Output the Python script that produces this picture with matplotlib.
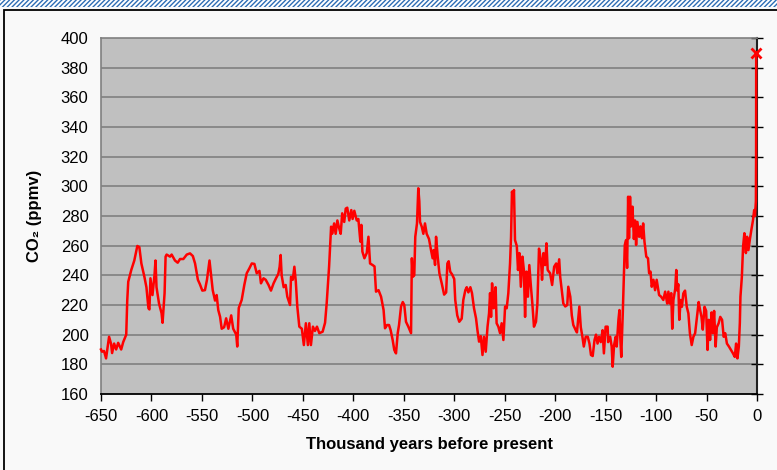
import matplotlib
matplotlib.use("Agg")
import matplotlib.pyplot as plt
from matplotlib.patches import Rectangle

plt.rcParams['font.family'] = ['Liberation Sans', 'DejaVu Sans']

years = [-650, -649, -647, -645, -642, -640, -639, -637, -635, -633, -630, -628, -625, -624, -623, -620, -617, -614, -612,
         -610, -607, -605, -603, -602, -601, -599, -597, -596, -595, -592.5, -590, -589, -587, -586, -585, -581.6, -580,
         -576.7, -574, -571.7, -568.4, -565, -561.8, -559, -556.8, -554, -552, -549.6, -547, -545, -543.7, -542.5,
         -539.3, -537, -535.4, -533.8, -532, -530.4, -528, -526, -523.8, -521, -519, -516, -515, -513.5, -510.6, -508,
         -505.6, -503, -500.6, -498, -495.7, -493, -491.5, -489, -486.8, -484, -481.6, -479, -476.6, -474.3, -473, -472,
         -471, -469, -467, -465.4, -462.7, -461.7, -460, -458.4, -457, -455.5, -453.5, -451, -449, -447, -445, -443.6,
         -442, -440, -438, -436, -433.7, -430.4, -428,
         -426.4, -424, -422, -421, -419, -417.5, -415.8, -414, -412.5, -411, -409, -407.5, -406, -404, -402, -400.7,
         -399, -396.6, -395, -393, -392, -391, -389, -386.7, -385, -383.4, -381, -379, -377.5, -375, -372.5, -370,
         -368.6, -366.6, -364.6, -363, -361, -359.4, -357.7, -356, -354.7, -352.7, -351, -349.5, -347.8, -345.5,
         -342.8, -342, -341, -339.6, -338.6, -336.9, -335.6, -334.6, -333.9, -332.2, -330.6, -329, -327.3, -325, -323,
         -321.4, -320.5, -319, -318, -316.4, -314.7, -312.4, -310,
         -308, -306.8, -305.5, -304, -302, -300, -299, -297, -295, -292.6, -291, -289, -287.6, -286, -284, -282.4,
         -280.4, -278.4, -277, -275.4, -273.7, -272, -270.5, -268.8, -267, -265.5, -264.5, -263.5, -262.5, -261, -260,
         -259, -258, -256.3, -254.6, -253, -251.3, -249.6, -248, -246.4, -244.7, -243.7, -242.8, -241.8, -240.8,
         -239.8, -238, -236.8, -235.4, -234, -232.4, -231, -229.8, -228.5, -227, -225.6, -224, -222.6, -221, -219,
         -217.6, -216, -214, -213, -211.6, -210, -208.6, -207.4, -205, -203, -201, -199, -197.8, -196,
         -195, -193.5, -191.9, -190, -188, -187, -185, -183.5, -182, -179.6, -178.4, -177, -176, -174.6, -173, -171.6,
         -169.7, -167.7, -166, -164.5, -162.8, -161, -159.5, -158, -156.5, -154.8, -153, -151.7, -150, -148, -147.5,
         -145.5, -144, -143, -141.6, -140, -139, -137.3, -136.3, -135.5, -134.5, -133, -132, -131, -129.7, -128.7,
         -127.7, -126.8, -125.8, -124.8, -123.4, -122, -120.8, -119.8, -118.5, -116.8, -115.5, -114, -112.8, -111.5,
         -109.7, -108, -106.9, -105.5, -104.3, -102.6, -101, -99.4, -97, -95, -92.8, -91, -89, -87.8, -86.5,
         -85, -84, -82.8, -81, -80, -79, -78, -77, -75.6, -74.4, -73, -71.3, -69.6, -68, -66.5, -64.7, -63, -61.3,
         -59.8, -57.8, -56.5, -55, -53.7, -52, -50.4, -49, -47.8, -46.5, -45, -43.7, -42.5, -41, -39.8, -38, -36.4,
         -34.6, -33, -31.5, -29.8, -27.8, -25.8, -23.8, -22, -20.7, -19.4, -18, -17, -16.4, -15, -13.8, -12.5, -11,
         -9.8, -8.5, -7, -5.5, -4, -2.8, -2.0, -1.5, -1.1, -0.9, -0.8]

co2 = [190, 188.5, 189, 184, 198.6, 193.7, 187.6, 194, 190, 194.5, 190, 195, 200, 223, 235.7, 243.6, 250, 259.8, 259,
       248, 239, 232, 217.8, 217, 238, 226.7, 240, 250, 232, 221, 214.5, 208, 228, 252.6, 254, 252.6, 254,
       250, 248.5, 251, 251, 254, 254.8, 253, 248, 237, 234, 229.7, 230, 237, 243.6, 250,
       230, 223, 226.7, 216.6, 212, 204, 205, 211, 204, 213, 204, 200, 192, 218, 223.4, 233.5,
       241.4, 244.7, 248, 247.7, 241.4, 243, 234.6, 238, 237, 233.5, 229.7, 234.6, 238, 241, 245.8, 253.7,
       240, 232, 233.5, 225.6, 220, 239, 237, 245.8, 236, 219, 205.4, 204, 193, 207.7, 193, 207.7,
       193, 205.4, 202.5, 205.4, 201, 202, 208,
       221, 245.8, 272.8, 268, 275, 268, 277, 271.7, 268, 281.8, 276, 285, 285.6, 277, 284, 278,
       283.5, 277, 278, 262.7, 274, 256, 251.5, 255, 266, 248, 247, 246, 229, 230, 225.6, 216.6,
       204.3, 206.5, 206.5, 203, 196.4, 189.7, 187.4, 201, 206.5, 219, 222, 220, 208.7, 205.4,
       201, 251.5, 239, 240, 266, 275, 298.7, 290, 276, 272.8, 268, 275, 268, 264.5, 257,
       251.5, 257, 247, 266, 252.6, 241.4, 234.6, 227,
       228.5, 248, 249.5, 242.5, 240.5, 237.5, 223.4, 213, 208.7, 210.8, 223.4, 230, 232, 228.5, 232, 228,
       217.8, 211, 203, 195.3, 199, 186.3, 198.6, 188.5, 205.4, 214.4, 228, 212, 234.6, 217.8, 225.6,
       232, 207.7, 205.4, 201, 207.7, 196.4, 219, 217.8, 228, 248, 266, 296.4, 293, 297.5,
       263.8, 259.8, 243.6, 255, 232.3, 252.6, 243.6, 212, 242.5, 225.6, 246.9, 232.3, 221, 205.4, 208.7,
       221, 258, 250, 237, 255, 246.9, 261.6, 243.6, 241.4, 233.5, 245.8, 248, 241.4, 250.8,
       239, 230, 221, 219, 220, 232.3, 225.6, 213, 206.5, 203, 201.5, 212, 219, 205, 198.6, 192,
       198.6, 198.6, 194, 186.3, 185.6, 196.4, 200, 194, 198.6, 195, 203, 187.4, 205.4, 205.4, 195,
       198.6, 192, 178.4, 193, 198.6, 192, 210, 216.6, 198.6, 185, 214.4, 237, 260.5, 263.8, 245,
       293, 265, 293, 273, 286.3, 264.5, 277, 260.5, 276, 266, 273, 265, 275, 262.7,
       252.6, 251.5, 241.4, 242.5, 232.3, 237, 230, 237, 226.7, 225.6, 223.4, 229, 221, 229, 221,
       228, 204, 223.4, 231, 243.6, 229.7, 234, 210, 223.4, 218.8, 227.8, 229.7, 218.8, 214.4, 201, 193, 198.6, 201,
       210, 222, 217, 212, 203.4, 218.8, 216, 189.7, 210, 196.4, 215, 201, 216, 192, 205, 207.7, 212,
       210, 198.6, 201, 194, 192, 189.7, 187.4, 185, 194, 184, 192, 208, 225.6, 239, 259.3, 268.4, 255,
       266, 257, 264.5, 271, 277, 284, 280, 285, 290, 320, 388]

modern_year = [-1.2]
modern_co2 = [390]

y_ticks = list(range(160, 401, 20))
x_ticks = list(range(-650, 1, 50))

W, H = 777, 470
fig = plt.figure(figsize=(W / 100, H / 100), dpi=100)
fig.patch.set_facecolor('#f9f9f9')

# top hatched strip
plt.rcParams['hatch.linewidth'] = 1.0
strip = Rectangle((0, 1 - 7 / H), 1, 7 / H, transform=fig.transFigure,
                  facecolor='white', edgecolor='#2e6db4', hatch='///////', linewidth=0)
fig.patches.append(strip)
# outer frame
frame = Rectangle((4 / W, -0.05), 1.2, 1.05 - 10.5 / H, transform=fig.transFigure,
                  facecolor='none', edgecolor='black', linewidth=1.3)
fig.patches.append(frame)

ax = fig.add_axes([101 / W, 1 - 394 / H, 656 / W, 356 / H])
ax.set_facecolor('#c0c0c0')
ax.set_xlim(-650, 0)
ax.set_ylim(160, 400)

for v in y_ticks[1:-1]:
    ax.axhline(v, color='#808080', linewidth=1.2, zorder=1)

ax.plot(years, co2, color='#ff0000', linewidth=1.8, zorder=3, clip_on=False)
ax.plot(modern_year, modern_co2, linestyle='none', marker='x', color='#ff0000',
        markersize=7, markeredgewidth=2, zorder=4, clip_on=False)

ax.set_yticks(y_ticks)
ax.set_xticks(x_ticks)
ax.set_yticklabels([str(v) for v in y_ticks])
ax.set_xticklabels([str(v) for v in x_ticks])

ax.tick_params(axis='x', direction='out', length=5, width=1, color='black',
               labelsize=12, pad=6)
ax.tick_params(axis='y', left=True, right=True, direction='inout', length=8, width=1,
               color='black', labelsize=12, pad=5)
for t in ax.yaxis.get_major_ticks():
    t.tick1line.set_visible(False)

for s in ['left', 'top']:
    ax.spines[s].set_color('#808080')
    ax.spines[s].set_linewidth(1.2)
ax.spines['right'].set_color('#202020')
ax.spines['right'].set_linewidth(1.5)
ax.spines['bottom'].set_color('black')
ax.spines['bottom'].set_linewidth(1.3)

ax.set_xlabel('Thousand years before present', fontsize=12, fontweight='bold', labelpad=9)
ax.set_ylabel('CO\u2082 (ppmv)', fontsize=12, fontweight='bold', labelpad=13)

fig.savefig('out.png', dpi=100, facecolor=fig.get_facecolor())
